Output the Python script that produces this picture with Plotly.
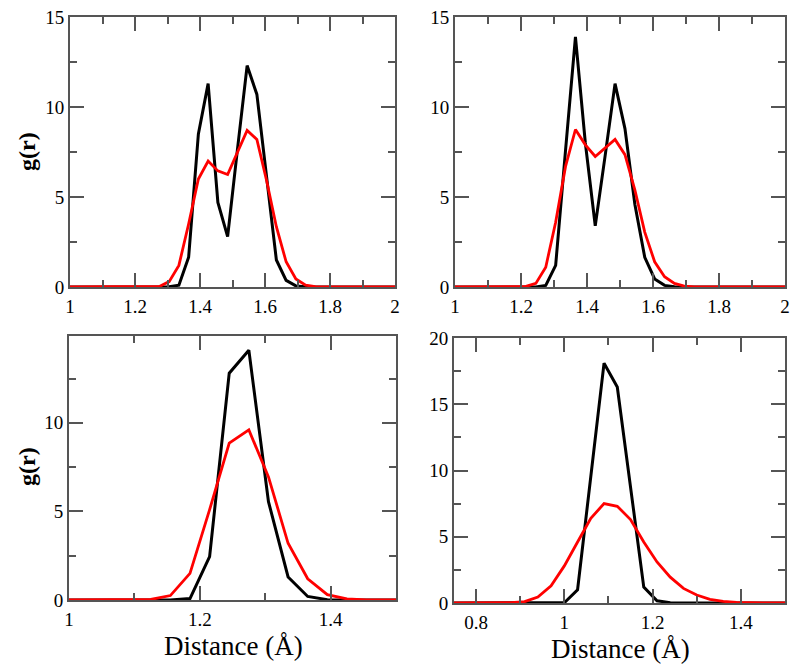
import plotly.graph_objects as go

# ---------------- data ----------------
# Panel A (top-left)
xa = [1.0, 1.245, 1.275, 1.305, 1.335, 1.365, 1.395, 1.425, 1.455, 1.485, 1.515,
      1.545, 1.575, 1.605, 1.635, 1.665, 1.695, 1.725, 1.755, 1.785, 2.0]
a_black = [0, 0, 0, 0.01, 0.1, 1.65, 8.5, 11.3, 4.7, 2.8, 7.6,
           12.3, 10.7, 6.1, 1.5, 0.37, 0.06, 0.01, 0, 0, 0]
a_red = [0, 0, 0.03, 0.3, 1.2, 3.5, 6.0, 7.0, 6.45, 6.25, 7.5,
         8.7, 8.2, 5.9, 3.35, 1.4, 0.45, 0.1, 0.02, 0, 0]

# Panel B (top-right)
xb = [1.0, 1.185, 1.215, 1.245, 1.275, 1.305, 1.335, 1.365, 1.395, 1.425, 1.455,
      1.485, 1.515, 1.545, 1.575, 1.605, 1.635, 1.665, 1.695, 1.725, 2.0]
b_black = [0, 0, 0, 0, 0.09, 1.2, 7.6, 13.9, 8.0, 3.4, 7.3,
           11.3, 8.8, 4.6, 1.65, 0.45, 0.09, 0.01, 0, 0, 0]
b_red = [0, 0, 0.03, 0.2, 1.1, 3.6, 6.7, 8.75, 7.9, 7.25, 7.75,
         8.2, 7.35, 5.4, 3.05, 1.4, 0.57, 0.2, 0.05, 0.01, 0]

# Panel C (bottom-left)
xc = [1.0, 1.095, 1.125, 1.155, 1.185, 1.215, 1.245, 1.275, 1.305, 1.335,
      1.365, 1.395, 1.425, 1.455, 1.485, 1.5]
c_black = [0, 0, 0, 0, 0.08, 2.45, 12.8, 14.1, 5.55, 1.3,
           0.2, 0.02, 0, 0, 0, 0]
c_red = [0, 0, 0.03, 0.25, 1.5, 5.1, 8.85, 9.6, 6.95, 3.2,
         1.2, 0.3, 0.06, 0.01, 0, 0]

# Panel D (bottom-right)
xd = [0.75, 0.85, 0.88, 0.91, 0.94, 0.97, 1.0, 1.03, 1.06, 1.09, 1.12, 1.15, 1.18,
      1.21, 1.24, 1.27, 1.30, 1.33, 1.36, 1.39, 1.42, 1.45, 1.5]
d_black = [0, 0, 0, 0, 0, 0, 0.02, 1.0, 9.5, 18.1, 16.3, 8.7, 1.2,
           0.17, 0.02, 0, 0, 0, 0, 0, 0, 0, 0]
d_red = [0, 0, 0.02, 0.1, 0.45, 1.3, 2.8, 4.6, 6.4, 7.5, 7.3, 6.3, 4.6,
         3.1, 1.95, 1.1, 0.6, 0.28, 0.12, 0.05, 0.02, 0, 0]

y_title = "g(r)"
x_title = "Distance (Å)"

# ---------------- figure ----------------
W, H = 800, 672
OFF = 8  # page body margin offset
FONT = "Liberation Serif"
AX = "#555555"

fig = go.Figure()

panels = [
    (xa, a_black, a_red, "x", "y"),
    (xb, b_black, b_red, "x2", "y2"),
    (xc, c_black, c_red, "x3", "y3"),
    (xd, d_black, d_red, "x4", "y4"),
]
for xs, yb, yr, xr, yrf in panels:
    fig.add_trace(go.Scatter(x=xs, y=yb, mode="lines", xaxis=xr, yaxis=yrf,
                             line=dict(color="black", width=3), showlegend=False))
    fig.add_trace(go.Scatter(x=xs, y=yr, mode="lines", xaxis=xr, yaxis=yrf,
                             line=dict(color="#ff0000", width=2.8), showlegend=False))

def fx(px):
    return (px - OFF) / W

def fy(py):
    return 1 - (py - OFF) / H

def px_dom_x(a, b):
    return [fx(a), fx(b)]

def px_dom_y(top, bottom):
    return [fy(bottom), fy(top)]

def axis(domain, rng, dtick, tick0, minor_dtick, anchor, standoff):
    return dict(
        domain=domain, range=rng, dtick=dtick, tick0=tick0, anchor=anchor,
        automargin=False, ticklabeloverflow="allow",
        showline=True, linecolor=AX, linewidth=2, mirror="ticks",
        ticks="inside", ticklen=14, tickwidth=2, tickcolor=AX,
        minor=dict(dtick=minor_dtick, ticks="inside", ticklen=7, tickwidth=2,
                   tickcolor=AX, showgrid=False),
        showgrid=False, zeroline=False,
        tickfont=dict(family=FONT, size=19, color="black"),
        ticklabelstandoff=standoff,
    )

fig.update_layout(
    width=W, height=H,
    margin=dict(l=0, r=0, t=0, b=0, autoexpand=False),
    paper_bgcolor="white", plot_bgcolor="white",
    font=dict(family=FONT, color="black"),
    xaxis=axis(px_dom_x(70, 395), [1, 2], 0.2, 1, 0.1, "y", 1),
    yaxis=axis(px_dom_y(17, 287), [0, 15], 5, 0, 2.5, "x", 0),
    xaxis2=axis(px_dom_x(455, 785), [1, 2], 0.2, 1, 0.1, "y2", 1),
    yaxis2=axis(px_dom_y(17, 287), [0, 15], 5, 0, 2.5, "x2", 0),
    xaxis3=axis(px_dom_x(69, 396), [1, 1.5], 0.2, 1, 0.1, "y3", 1),
    yaxis3=axis(px_dom_y(336, 600), [0, 14.9], 5, 0, 2.5, "x3", 0),
    xaxis4=axis(px_dom_x(454, 785), [0.75, 1.5], 0.2, 0.8, 0.1, "y4", 1),
    yaxis4=axis(px_dom_y(338, 603), [0, 20], 5, 0, 2.5, "x4", 0),
)

ann = []
for (cx, cy) in [(27, 152), (27, 467)]:
    ann.append(dict(text="<b>" + y_title + "</b>", x=fx(cx), y=fy(cy),
                    xref="paper", yref="paper", showarrow=False, textangle=-90,
                    font=dict(family=FONT, size=24, color="black"),
                    xanchor="center", yanchor="middle"))
for (cx, cy) in [(233, 646), (620, 649)]:
    ann.append(dict(text=x_title, x=fx(cx), y=fy(cy),
                    xref="paper", yref="paper", showarrow=False,
                    font=dict(family=FONT, size=27, color="black"),
                    xanchor="center", yanchor="middle"))
fig.update_layout(annotations=ann)

fig.write_html("out.html")
